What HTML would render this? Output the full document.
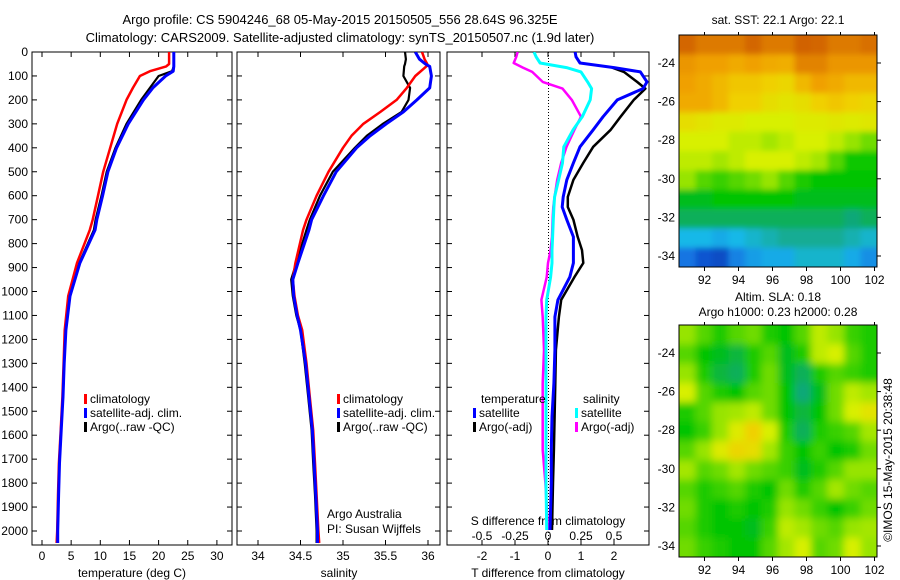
<!DOCTYPE html>
<html><head><meta charset="utf-8"><style>
body{margin:0;background:#fff}
svg{display:block;font-family:"Liberation Sans",sans-serif}
text{font-size:12px;fill:#000}
</style></head><body>
<svg id="s" width="900" height="580" xmlns="http://www.w3.org/2000/svg">
<defs>
<clipPath id="c1"><rect x="32" y="52" width="200" height="493"/></clipPath>
<clipPath id="c2"><rect x="237" y="52" width="203" height="493"/></clipPath>
<clipPath id="c3"><rect x="447" y="52" width="202" height="493"/></clipPath>
<clipPath id="cm1"><rect x="679" y="35" width="198" height="232"/></clipPath>
<clipPath id="cm2"><rect x="679" y="325" width="198" height="232"/></clipPath>
<filter id="bl1"><feGaussianBlur stdDeviation="3"/></filter>
<filter id="bl2"><feGaussianBlur stdDeviation="4"/></filter>
</defs>
<text x="340" y="24" text-anchor="middle" style="font-size:13px">Argo profile: CS 5904246_68 05-May-2015 20150505_556 28.64S 96.325E</text>
<text x="340" y="42" text-anchor="middle" style="font-size:13px">Climatology: CARS2009. Satellite-adjusted climatology: synTS_20150507.nc (1.9d later)</text>
<text x="778" y="24" text-anchor="middle">sat. SST: 22.1 Argo: 22.1</text>
<text x="778" y="301" text-anchor="middle">Altim. SLA: 0.18</text>
<text x="778" y="316" text-anchor="middle">Argo h1000: 0.23 h2000: 0.28</text>
<text transform="translate(892,460) rotate(-90)" text-anchor="middle">©IMOS 15-May-2015 20:38:48</text>
<g id="g"></g>
</svg>
<script>
// ---- data ----
const tDepth=[0,50,60,80,100,150,200,300,400,500,600,700,743,881,1019,1161,1300,1440,1580,1717,1850,2000,2050];
const tClim=[21.8,21.8,21.3,18.5,16.8,15.6,14.5,12.9,11.7,10.5,9.6,8.7,8.2,6.0,4.5,3.9,3.7,3.5,3.2,2.9,2.75,2.6,2.5];
const tSat=[22.6,22.6,22.6,22.5,21.2,19.0,17.4,14.8,12.8,11.3,10.4,9.4,9.1,6.5,4.8,4.1,3.8,3.6,3.3,3.0,2.85,2.7,2.7];
const tArgo=[22.6,22.6,22.6,22.3,20.0,18.5,17.0,14.5,12.6,11.1,10.2,9.2,8.9,6.4,4.7,4.0,3.8,3.6,3.3,3.0,2.85,2.7,2.7];
const sDepth=[0,30,50,60,100,150,200,250,300,350,400,500,600,700,743,881,950,1019,1100,1161,1300,1440,1580,1717,1850,2000,2050];
const sClim=[35.93,35.96,35.99,35.98,35.85,35.75,35.63,35.44,35.24,35.1,35.0,34.83,34.69,34.57,34.53,34.44,34.41,34.43,34.47,34.52,34.57,34.61,34.65,34.67,34.69,34.71,34.72];
const sSat=[35.85,35.9,35.97,36.02,36.04,36.02,35.87,35.71,35.51,35.32,35.16,34.92,34.77,34.63,34.6,34.47,34.41,34.42,34.46,34.5,34.56,34.6,34.64,34.66,34.68,34.7,34.7];
const sArgo=[35.73,35.74,35.73,35.72,35.71,35.79,35.77,35.69,35.47,35.28,35.14,34.88,34.73,34.61,34.57,34.45,34.39,34.41,34.45,34.5,34.55,34.59,34.63,34.65,34.67,34.69,34.69];
const dDepth=[0,20,46,65,83,125,153,200,270,325,396,463,534,605,647,700,772,827,881,940,1035,1106,1244,1382,1524,1662,1800,1996];
const dTSat=[0.82,0.85,0.97,2.0,2.8,3.0,2.88,2.1,1.67,1.37,0.97,0.77,0.57,0.46,0.43,0.57,0.77,0.77,0.77,0.66,0.3,0.21,0.21,0.18,0.12,0.1,0.1,0.06];
const dTArgo=[null,null,null,1.94,2.3,2.7,2.95,2.6,2.2,1.9,1.37,1.07,0.77,0.6,0.6,0.77,0.9,1.03,1.07,0.8,0.4,0.33,0.24,0.22,0.2,0.18,0.15,0.12];
const dSSat=[-0.106,-0.09,-0.06,0.14,0.25,0.3,0.33,0.32,0.26,0.19,0.12,0.11,0.08,0.05,0.045,0.04,0.035,0.03,0.03,0.02,-0.01,-0.015,-0.015,-0.015,-0.015,-0.015,-0.015,-0.01];
const dSArgo=[-0.23,-0.24,-0.26,-0.19,-0.12,-0.04,0.11,0.18,0.25,0.2,0.14,0.1,0.07,0.05,0.04,0.035,0.03,0.02,0.0,-0.01,-0.05,-0.04,-0.03,-0.04,-0.04,-0.04,-0.02,0];
const depthTicks=[0,100,200,300,400,500,600,700,800,900,1000,1100,1200,1300,1400,1500,1600,1700,1800,1900,2000];
const tTicks=[0,5,10,15,20,25,30];
const sTicks=[34,34.5,35,35.5,36];
const dTTicks=[-2,-1,0,1,2];
const dSTicks=[-0.5,-0.25,0,0.25,0.5];
const dSTickLabels=['-0.5','-0.25','0','0.25','0.5'];
const latTicks=[-24,-26,-28,-30,-32,-34];
const lonTicks=[92,94,96,98,100,102];
const sstGrid=[
[0.92,0.88,0.88,0.88,0.92,0.88,0.88,0.93,0.92,0.88,0.88,0.9],
[0.82,0.8,0.8,0.78,0.8,0.78,0.77,0.86,0.86,0.82,0.82,0.82],
[0.8,0.78,0.75,0.72,0.72,0.7,0.68,0.75,0.8,0.78,0.75,0.75],
[0.78,0.78,0.75,0.7,0.7,0.66,0.64,0.66,0.7,0.72,0.7,0.68],
[0.66,0.64,0.62,0.62,0.6,0.6,0.6,0.62,0.62,0.63,0.62,0.63],
[0.6,0.6,0.6,0.58,0.58,0.56,0.58,0.6,0.6,0.58,0.55,0.52],
[0.58,0.58,0.56,0.58,0.6,0.6,0.6,0.58,0.56,0.5,0.45,0.45],
[0.55,0.5,0.48,0.5,0.52,0.55,0.5,0.46,0.44,0.44,0.44,0.44],
[0.42,0.42,0.44,0.44,0.44,0.44,0.44,0.42,0.42,0.42,0.42,0.42],
[0.38,0.38,0.38,0.38,0.38,0.38,0.38,0.38,0.38,0.38,0.36,0.38],
[0.28,0.28,0.26,0.28,0.3,0.32,0.34,0.34,0.34,0.34,0.32,0.3],
[0.18,0.12,0.1,0.2,0.24,0.26,0.26,0.3,0.3,0.3,0.26,0.22]];
const slaGrid=[
[0.55,0.5,0.46,0.5,0.52,0.46,0.44,0.5,0.58,0.55,0.48,0.46],
[0.5,0.44,0.42,0.4,0.46,0.5,0.42,0.46,0.58,0.6,0.5,0.46],
[0.55,0.46,0.4,0.38,0.46,0.52,0.42,0.38,0.46,0.5,0.48,0.46],
[0.6,0.5,0.46,0.44,0.5,0.52,0.44,0.36,0.42,0.52,0.58,0.56],
[0.46,0.5,0.55,0.56,0.58,0.52,0.44,0.4,0.44,0.52,0.6,0.64],
[0.44,0.48,0.55,0.62,0.7,0.6,0.46,0.38,0.46,0.48,0.5,0.56],
[0.5,0.55,0.62,0.68,0.66,0.56,0.48,0.44,0.48,0.44,0.46,0.52],
[0.56,0.5,0.52,0.56,0.52,0.5,0.48,0.42,0.46,0.5,0.55,0.55],
[0.5,0.46,0.48,0.5,0.46,0.44,0.52,0.46,0.5,0.56,0.52,0.5],
[0.52,0.46,0.44,0.46,0.44,0.46,0.55,0.52,0.48,0.44,0.48,0.52],
[0.5,0.46,0.44,0.44,0.42,0.48,0.58,0.56,0.52,0.5,0.55,0.56],
[0.52,0.48,0.46,0.44,0.44,0.5,0.56,0.6,0.5,0.52,0.6,0.55]];

// ---- helpers ----
const NS='http://www.w3.org/2000/svg';
const G=document.getElementById('g');
function mk(tag,attrs,parent){const e=document.createElementNS(NS,tag);for(const k in attrs)e.setAttribute(k,attrs[k]);(parent||G).appendChild(e);return e;}
const yD=d=>52+d*0.2395;
const xT=v=>42+v*5.83;
const xS=v=>258+(v-34)*85;
const xDT=v=>548+v*33;
const xDS=v=>548+v*132;

function line(xs,ds,xf,color,w,clip,name){
  let p='';let pen=false;
  for(let i=0;i<xs.length;i++){if(xs[i]===null){pen=false;continue;}
    p+=(pen?'L':'M')+xf(xs[i]).toFixed(1)+','+yD(ds[i]).toFixed(1);pen=true;}
  const e=mk('path',{d:p,fill:'none',stroke:color,'stroke-width':w,'stroke-linejoin':'round','clip-path':'url(#'+clip+')'});
  
  
}
function frame(x,w,name){
  const e=mk('rect',{x:x,y:52,width:w,height:493,fill:'none',stroke:'#000','stroke-width':1});
  
  
  depthTicks.forEach(d=>{mk('line',{x1:x,x2:x+5,y1:yD(d),y2:yD(d),stroke:'#000'});mk('line',{x1:x+w-5,x2:x+w,y1:yD(d),y2:yD(d),stroke:'#000'});});
}
function xAxis(ticks,labels,xf,y,name){
  ticks.forEach((t,i)=>{
    mk('line',{x1:xf(t),x2:xf(t),y1:545,y2:540,stroke:'#000'});
    mk('line',{x1:xf(t),x2:xf(t),y1:52,y2:57,stroke:'#000'});
    const e=mk('text',{x:xf(t),y:y,'text-anchor':'middle'});e.textContent=labels[i];
    
    
  });
}
frame(32,200,'temperature-panel');
frame(237,203,'salinity-panel');
frame(447,202,'difference-panel');
depthTicks.forEach(d=>{const e=mk('text',{x:28,y:yD(d)+4,'text-anchor':'end'});e.textContent=d;
  
  });
xAxis(tTicks,tTicks.map(String),xT,560,'temperature');
xAxis(sTicks,sTicks.map(String),xS,560,'salinity');
xAxis(dTTicks,dTTicks.map(String),xDT,560,'t-diff');
dSTicks.forEach((t,i)=>{const e=mk('text',{x:xDS(t),y:540,'text-anchor':'middle'});e.textContent=dSTickLabels[i];
  
  });
function txt(x,y,s,name,anchor){const e=mk('text',{x:x,y:y,'text-anchor':anchor||'start'});e.textContent=s;
  
  return e;}
txt(132,577,'temperature (deg C)','x-axis-title-temperature','middle');
txt(339,577,'salinity','x-axis-title-salinity','middle');
txt(548,577,'T difference from climatology','x-axis-title-t-diff','middle');
txt(548,525,'S difference from climatology','s-diff-axis-title','middle');
txt(327,518,'Argo Australia','credit-argo-australia');
txt(327,533,'PI: Susan Wijffels','credit-pi');
mk('line',{x1:548.5,x2:548.5,y1:52,y2:545,stroke:'#000','stroke-dasharray':'1,2'});
line(tArgo,tDepth,xT,'#000',2.2,'c1','temp-argo-line');
line(tClim,tDepth,xT,'#f00',2.5,'c1','temp-climatology-line');
line(tSat,tDepth,xT,'#00f',3,'c1','temp-satellite-line');
line(sArgo,sDepth,xS,'#000',2.2,'c2','sal-argo-line');
line(sClim,sDepth,xS,'#f00',2.5,'c2','sal-climatology-line');
line(sSat,sDepth,xS,'#00f',3,'c2','sal-satellite-line');
line(dSArgo,dDepth,xDS,'#f0f',2.5,'c3','sdiff-argo-line');
line(dSSat,dDepth,xDS,'#0ff',3,'c3','sdiff-satellite-line');
line(dTArgo,dDepth,xDT,'#000',2.5,'c3','tdiff-argo-line');
line(dTSat,dDepth,xDT,'#00f',3,'c3','tdiff-satellite-line');
function leg(x,y,c,s,name){const r=mk('rect',{x:x,y:y-9,width:3,height:10,fill:c});
  
  
  txt(x+6,y,s,name);}
leg(84,403,'#f00','climatology','legend-climatology-t');
leg(84,417,'#00f','satellite-adj. clim.','legend-satellite-t');
leg(84,431,'#000','Argo(..raw -QC)','legend-argo-t');
leg(337,403,'#f00','climatology','legend-climatology-s');
leg(337,417,'#00f','satellite-adj. clim.','legend-satellite-s');
leg(337,431,'#000','Argo(..raw -QC)','legend-argo-s');
txt(481,403,'temperature','legend-temperature-header');
txt(583,403,'salinity','legend-salinity-header');
leg(473,417,'#00f','satellite','legend-tdiff-satellite');
leg(473,431,'#000','Argo(-adj)','legend-tdiff-argo');
leg(575,417,'#0ff','satellite','legend-sdiff-satellite');
leg(575,431,'#f0f','Argo(-adj)','legend-sdiff-argo');
const stops=[[0,[10,42,144]],[0.15,[16,96,224]],[0.28,[24,184,232]],[0.36,[16,168,120]],[0.44,[0,196,0]],[0.52,[112,220,0]],[0.6,[216,240,0]],[0.7,[240,208,0]],[0.8,[240,160,0]],[0.9,[216,112,0]],[1,[192,64,0]]];
function cmap(v){for(let i=1;i<stops.length;i++){if(v<=stops[i][0]){const a=stops[i-1],b=stops[i],f=(v-a[0])/(b[0]-a[0]);
  return 'rgb('+a[1].map((c,k)=>Math.round(c+(b[1][k]-c)*f)).join(',')+')';}}return 'rgb(192,64,0)';}
function map(grid,top,clip,blur,name){
  const x0=679,w=198,h=232,n=grid[0].length,m=grid.length;
  const gm=mk('g',{'clip-path':'url(#'+clip+')'});
  
  
  const gi=mk('g',{filter:'url(#'+blur+')'},gm);
  const cw=w/n,ch=h/m;
  grid.forEach((row,j)=>row.forEach((v,i)=>{
    const r=mk('rect',{x:x0+i*cw-(i==0?12:0),y:top+j*ch-(j==0?12:0),width:cw+0.6+(i==0||i==n-1?12:0),height:ch+0.6+(j==0||j==m-1?12:0),fill:cmap(v)},gi);
    
    
  }));
  mk('rect',{x:x0,y:top,width:w,height:h,fill:'none',stroke:'#000'});
  const lat=l=>top+(-22.55-l)*19.3, lon=l=>x0+(l-90.5)*17;
  latTicks.forEach(l=>{mk('line',{x1:x0+w,x2:x0+w+4,y1:lat(l),y2:lat(l),stroke:'#000'});
    txt(x0-4,lat(l)+4,String(l),name+'-lat-label','end');});
  lonTicks.forEach(l=>{mk('line',{x1:lon(l),x2:lon(l),y1:top+h,y2:top+h+4,stroke:'#000'});
    mk('line',{x1:lon(l),x2:lon(l),y1:top,y2:top-3,stroke:'#000'});
    txt(lon(l),top+h+17,String(l),name+'-lon-label','middle');});
}
map(sstGrid,35,'cm1','bl1','sst-map');
map(slaGrid,325,'cm2','bl2','sla-map');
</script>
</body></html>
